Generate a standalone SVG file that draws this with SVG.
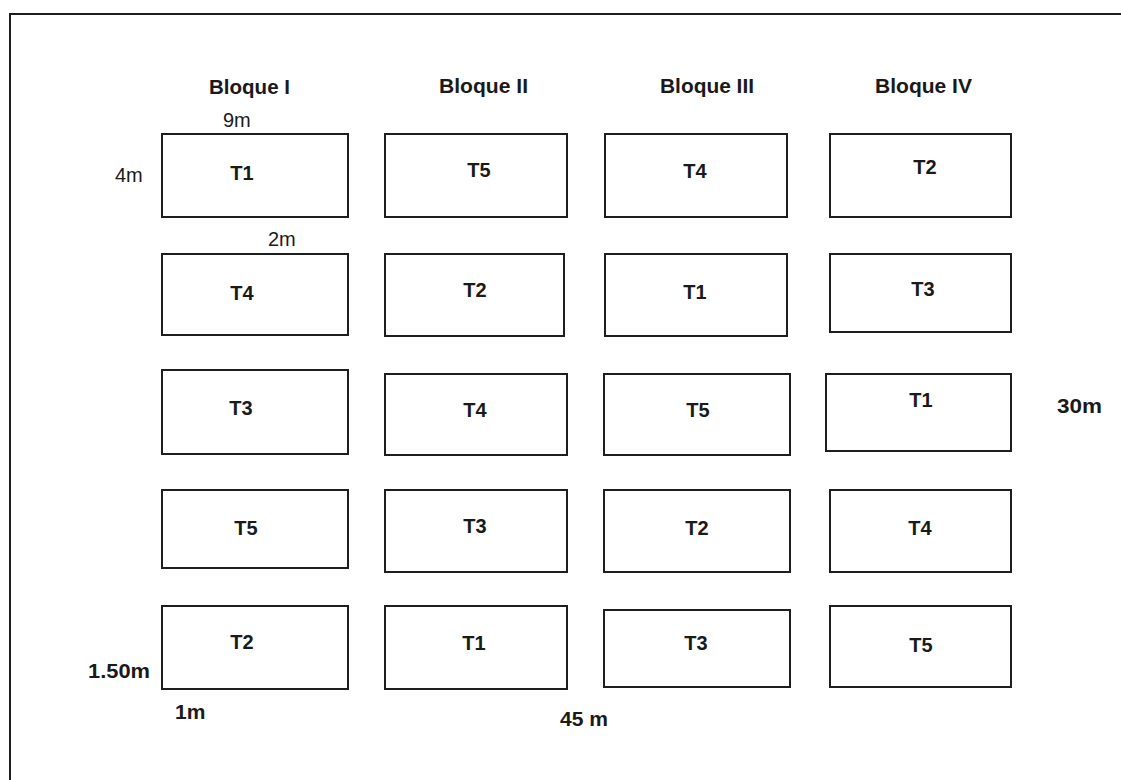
<svg xmlns="http://www.w3.org/2000/svg" width="1121" height="780" viewBox="0 0 1121 780">
<style>
.plot{fill:#fff;stroke:#1e1e1e;stroke-width:2}
.frame{fill:none;stroke:#1e1e1e;stroke-width:2}
.t{font-family:"Liberation Sans",Arial,sans-serif;font-weight:bold;font-size:20px;fill:#1a1a1a;text-anchor:middle}
.h{font-family:"Liberation Sans",Arial,sans-serif;font-weight:bold;font-size:20px;fill:#1a1a1a}
.d{font-family:"Liberation Sans",Arial,sans-serif;font-size:20px;fill:#1a1a1a}
.db{font-family:"Liberation Sans",Arial,sans-serif;font-weight:bold;font-size:21px;fill:#1a1a1a}
</style>
<rect width="1121" height="780" fill="#fff"/>
<path class="frame" d="M10,780 V14 H1121"/>
<g id="headers">
<text class="h" x="209" y="94" textLength="81" lengthAdjust="spacingAndGlyphs">Bloque I</text>
<text class="h" x="439" y="93" textLength="89" lengthAdjust="spacingAndGlyphs">Bloque II</text>
<text class="h" x="660" y="93" textLength="94" lengthAdjust="spacingAndGlyphs">Bloque III</text>
<text class="h" x="875" y="93" textLength="97" lengthAdjust="spacingAndGlyphs">Bloque IV</text>
</g>
<g id="dimensions">
<text class="d" x="223" y="127">9m</text>
<text class="d" x="115" y="182">4m</text>
<text class="d" x="268" y="246" font-size="22">2m</text>
<text class="db" x="88" y="678" textLength="62" lengthAdjust="spacingAndGlyphs">1.50m</text>
<text class="db" x="175" y="719">1m</text>
<text class="db" x="560" y="726" textLength="48" lengthAdjust="spacingAndGlyphs">45 m</text>
<text class="db" x="1057" y="413" textLength="45" lengthAdjust="spacingAndGlyphs">30m</text>
</g>
<g id="b1r1"><rect class="plot" x="162" y="134" width="186" height="83"/><text class="t" x="242" y="180">T1</text></g>
<g id="b2r1"><rect class="plot" x="385" y="134" width="182" height="83"/><text class="t" x="479" y="177">T5</text></g>
<g id="b3r1"><rect class="plot" x="605" y="134" width="182" height="83"/><text class="t" x="695" y="178">T4</text></g>
<g id="b4r1"><rect class="plot" x="830" y="134" width="181" height="83"/><text class="t" x="925" y="174">T2</text></g>

<g id="b1r2"><rect class="plot" x="162" y="254" width="186" height="81"/><text class="t" x="242" y="300">T4</text></g>
<g id="b2r2"><rect class="plot" x="385" y="254" width="179" height="82"/><text class="t" x="475" y="297">T2</text></g>
<g id="b3r2"><rect class="plot" x="605" y="254" width="182" height="82"/><text class="t" x="695" y="299">T1</text></g>
<g id="b4r2"><rect class="plot" x="830" y="254" width="181" height="78"/><text class="t" x="923" y="296">T3</text></g>

<g id="b1r3"><rect class="plot" x="162" y="370" width="186" height="84"/><text class="t" x="241" y="415">T3</text></g>
<g id="b2r3"><rect class="plot" x="385" y="374" width="182" height="81"/><text class="t" x="475" y="417">T4</text></g>
<g id="b3r3"><rect class="plot" x="604" y="374" width="186" height="81"/><text class="t" x="698" y="417">T5</text></g>
<g id="b4r3"><rect class="plot" x="826" y="374" width="185" height="77"/><text class="t" x="921" y="407">T1</text></g>

<g id="b1r4"><rect class="plot" x="162" y="490" width="186" height="78"/><text class="t" x="246" y="535">T5</text></g>
<g id="b2r4"><rect class="plot" x="385" y="490" width="182" height="82"/><text class="t" x="475" y="533">T3</text></g>
<g id="b3r4"><rect class="plot" x="604" y="490" width="186" height="82"/><text class="t" x="697" y="535">T2</text></g>
<g id="b4r4"><rect class="plot" x="830" y="490" width="181" height="82"/><text class="t" x="920" y="535">T4</text></g>

<g id="b1r5"><rect class="plot" x="162" y="606" width="186" height="83"/><text class="t" x="242" y="649">T2</text></g>
<g id="b2r5"><rect class="plot" x="385" y="606" width="182" height="83"/><text class="t" x="474" y="650">T1</text></g>
<g id="b3r5"><rect class="plot" x="604" y="610" width="186" height="77"/><text class="t" x="696" y="650">T3</text></g>
<g id="b4r5"><rect class="plot" x="830" y="606" width="181" height="81"/><text class="t" x="921" y="652">T5</text></g>
<g id="connectors"/>
</svg>
